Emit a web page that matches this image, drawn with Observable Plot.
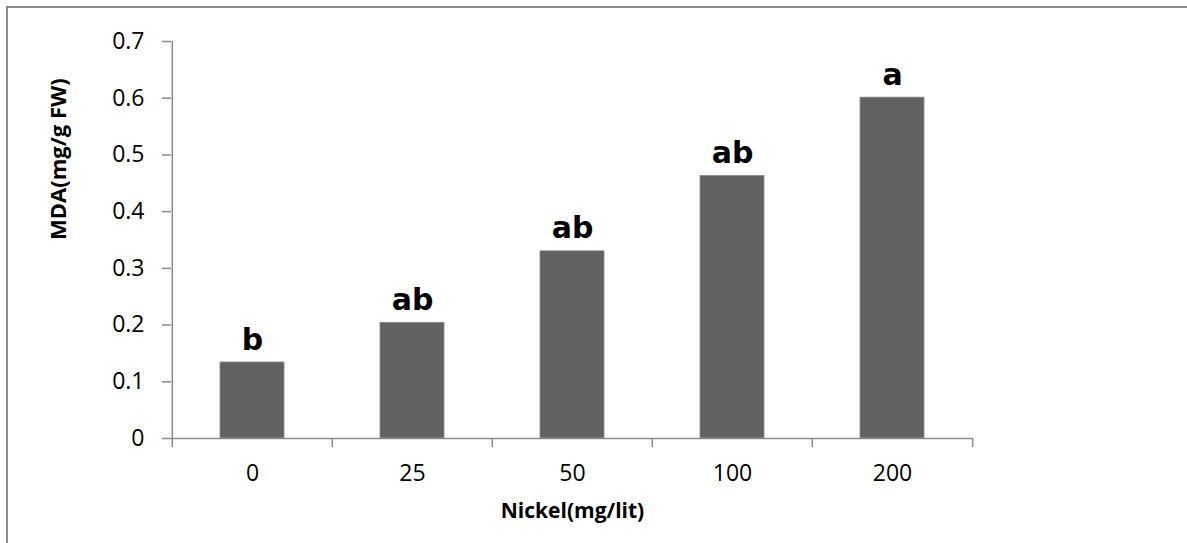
<!DOCTYPE html>
<html>
<head>
<meta charset="utf-8">
<script src="https://cdn.jsdelivr.net/npm/d3@7"></script>
<script src="https://cdn.jsdelivr.net/npm/@observablehq/plot@0.6"></script>
<style>
  html, body { margin: 0; padding: 0; background: #fff; }
  #wrap { position: relative; width: 1187px; height: 543px; overflow: hidden; }
  #border { position: absolute; left: 6px; top: 6px; width: 1200px; height: 600px;
            border-top: 2px solid #8c8c8c; border-left: 2px solid #8c8c8c; pointer-events: none; }
</style>
</head>
<body>
<div id="wrap"><div id="border"></div></div>
<script>
const categories = ["0", "25", "50", "100", "200"];
const values = [0.134, 0.204, 0.330, 0.463, 0.601];
const letters = ["b", "ab", "ab", "ab", "a"];
const yTicks = [0, 0.1, 0.2, 0.3, 0.4, 0.5, 0.6, 0.7];
const xTitle = "Nickel(mg/lit)";
const yTitle = "MDA(mg/g FW)";

const data = categories.map((c, i) => ({cat: c, value: values[i], letter: letters[i]}));

const W = 1187, H = 543;
const mL = 171, mR = 214, mT = 41, mB = 105;
const halfStep = (W - mL - mR) / categories.length / 2;
const axisColor = "#8c8c8c";
const tickFont = "'Open Sans', sans-serif";

const chart = Plot.plot({
  width: W,
  height: H,
  marginLeft: mL,
  marginRight: mR,
  marginTop: mT,
  marginBottom: mB,
  style: {background: "transparent", fontFamily: tickFont, overflow: "visible"},
  x: {domain: categories, paddingInner: 0.6, paddingOuter: 0.3, label: null},
  y: {domain: [0, 0.7], label: null},
  marks: [
    Plot.barY(data, {x: "cat", y: "value", fill: "#616161", stroke: "#8a8a8a", strokeWidth: 0.8}),
    Plot.ruleY([0], {stroke: axisColor, strokeWidth: 1.5}),
    Plot.ruleX([categories[0]], {x: d => d, dx: -halfStep, y1: 0.7, y2: 0, insetBottom: -9, stroke: axisColor, strokeWidth: 1.5}),
    Plot.ruleX(categories.slice(1), {x: d => d, dx: -halfStep, y1: 0, y2: 0, insetBottom: -9, stroke: axisColor, strokeWidth: 1.5}),
    Plot.ruleX([categories[categories.length - 1]], {x: d => d, dx: halfStep, y1: 0, y2: 0, insetBottom: -9, stroke: axisColor, strokeWidth: 1.5}),
    Plot.axisY({ticks: yTicks, tickSize: 9, tickPadding: 18, stroke: axisColor, strokeWidth: 1.5,
      tickFormat: d => d === 0 ? "0" : d.toFixed(1), fontSize: 23, fill: "#000", label: null}),
    Plot.axisX({tickSize: 0, tickPadding: 26, fontSize: 23, fill: "#000", label: null}),
    Plot.text(data, {x: "cat", y: "value", text: "letter", dy: -13, lineAnchor: "bottom",
      fontSize: 30, fontWeight: "bold", fontFamily: "'DejaVu Sans', sans-serif", fill: "#000"}),
    Plot.text([yTitle], {frameAnchor: "left", dx: -113, rotate: -90, fontSize: 22, fontWeight: "bold", fill: "#000"}),
    Plot.text([xTitle], {frameAnchor: "bottom", dy: 79, fontSize: 21, fontWeight: "bold", fill: "#000"})
  ]
});
document.getElementById("wrap").appendChild(chart);
chart.style.position = "absolute";
chart.style.left = "0px";
chart.style.top = "0px";
</script>
</body>
</html>
